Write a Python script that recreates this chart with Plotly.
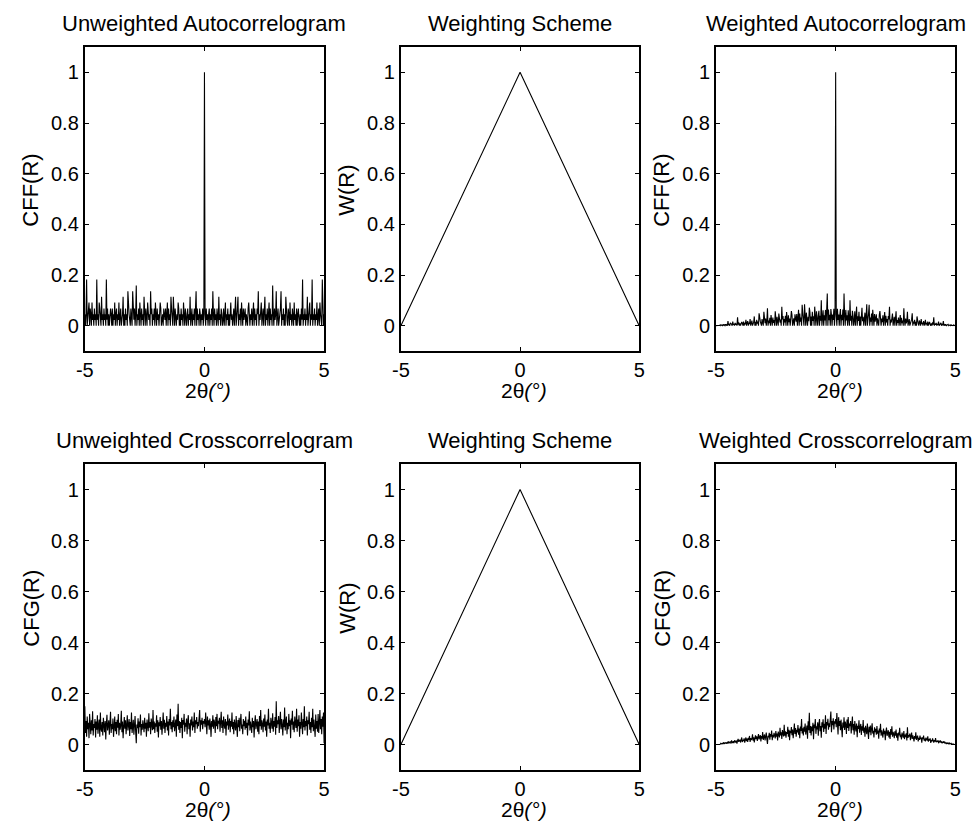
import numpy as np
import plotly.graph_objects as go

# ---------------- data ----------------
LAG_MIN, LAG_MAX, N_LAGS = -5.0, 5.0, 401
lags = np.linspace(LAG_MIN, LAG_MAX, N_LAGS)

# triangular weighting scheme (vertices)
weight_x = [-5.0, 0.0, 5.0]
weight_y = [0.0, 1.0, 0.0]

# unweighted autocorrelogram, lags 0 .. +5 (symmetric in lag)
auto_half = [1.0,
    .045, .0, .068, .023, .045, .0, .045, .068, .0, .045,
    .023, .068, .0, .136, .045, .0, .068, .023, .045, .0,
    .068, .045, .0, .114, .023, .045, .0, .068, .045, .0,
    .023, .068, .0, .045, .091, .0, .045, .023, .068, .0,
    .045, .0, .068, .091, .023, .045, .0, .045, .068, .0,
    .045, .114, .0, .023, .068, .114, .0, .045, .023, .068,
    .0, .091, .045, .0, .068, .023, .045, .068, .0, .045,
    .023, .0, .068, .091, .045, .0, .045, .023, .068, .0,
    .045, .091, .0, .068, .023, .045, .0, .068, .045, .136,
    .0, .045, .023, .068, .091, .0, .045, .068, .0, .045,
    .114, .0, .045, .023, .068, .0, .045, .091, .0, .068,
    .023, .045, .0, .159, .045, .0, .068, .023, .045, .136,
    .0, .045, .068, .0, .023, .045, .068, .136, .0, .045,
    .023, .068, .0, .045, .0, .114, .045, .023, .0, .068,
    .045, .0, .091, .023, .045, .0, .068, .045, .0, .091,
    .023, .045, .0, .068, .0, .045, .068, .023, .0, .045,
    .0, .068, .023, .182, .0, .045, .023, .068, .0, .045,
    .023, .114, .0, .045, .068, .091, .0, .045, .023, .182,
    .0, .045, .023, .068, .0, .045, .023, .091, .0, .045,
    .068, .0, .091, .045, .023, .0, .182, .045, .0, .045]
auto_unweighted = auto_half[::-1] + auto_half[1:]

# unweighted crosscorrelogram, lags -5 .. +5
cross_unweighted = [
    .150, .045, .092, .030, .110, .060, .085, .025, .120, .070,
    .040, .095, .055, .130, .035, .080, .065, .100, .028, .090,
    .058, .115, .042, .075, .098, .030, .125, .062, .050, .088,
    .035, .105, .070, .048, .092, .020, .083, .117, .055, .072,
    .095, .038, .068, .128, .045, .080, .060, .102, .030, .076,
    .110, .052, .088, .040, .097, .066, .120, .035, .085, .058,
    .075, .132, .048, .090, .025, .070, .108, .062, .095, .040,
    .082, .115, .055, .072, .100, .033, .088, .060, .125, .045,
    .070, .097, .038, .085, .112, .050, .005, .078, .064, .103,
    .042, .090, .068, .118, .035, .080, .058, .095, .072, .048,
    .105, .062, .085, .030, .098, .074, .052, .122, .066, .088,
    .040, .102, .078, .056, .135, .060, .090, .045, .083, .070,
    .115, .050, .095, .028, .087, .072, .108, .058, .092, .038,
    .080, .125, .062, .097, .045, .085, .070, .112, .055, .090,
    .035, .100, .075, .140, .060, .088, .048, .095, .068, .110,
    .052, .082, .098, .030, .118, .072, .160, .058, .092, .045,
    .088, .065, .105, .025, .096, .078, .120, .050, .085, .070,
    .102, .040, .092, .115, .060, .083, .030, .098, .075, .110,
    .055, .090, .068, .125, .045, .095, .080, .108, .062, .088,
    .072, .118, .135, .050, .095, .078, .105, .060, .092, .082,
    .100, .068, .125, .085, .040, .110, .075, .095, .058, .102,
    .080, .030, .092, .070, .115, .062, .098, .085, .045, .108,
    .072, .120, .060, .093, .082, .105, .050, .088, .128, .065,
    .095, .045, .110, .078, .062, .100, .035, .090, .075, .118,
    .058, .085, .102, .048, .092, .070, .125, .060, .088, .040,
    .098, .075, .055, .112, .083, .030, .096, .068, .105, .052,
    .088, .120, .062, .078, .040, .100, .072, .093, .058, .110,
    .065, .085, .035, .098, .075, .130, .055, .090, .070, .045,
    .105, .068, .092, .028, .085, .115, .060, .078, .100, .050,
    .090, .040, .112, .072, .135, .058, .095, .080, .048, .102,
    .070, .118, .055, .090, .030, .098, .075, .140, .062, .085,
    .045, .105, .080, .062, .122, .050, .092, .070, .108, .038,
    .170, .065, .095, .080, .112, .045, .088, .128, .060, .100,
    .075, .035, .098, .068, .145, .055, .090, .110, .040, .085,
    .060, .120, .072, .095, .025, .102, .078, .132, .058, .090,
    .048, .110, .082, .065, .140, .050, .098, .072, .115, .030,
    .088, .062, .125, .078, .040, .100, .068, .150, .055, .092,
    .072, .110, .035, .095, .080, .128, .058, .088, .045, .105,
    .068, .140, .052, .098, .075, .030, .118, .062, .092, .050,
    .120, .045, .085, .135, .060, .100, .040, .110, .070, .125,
    .005]

# weighted series = unweighted * weighting scheme
w_at_lags = np.interp(lags, weight_x, weight_y)
auto_weighted = np.array(auto_unweighted) * w_at_lags
cross_weighted = np.array(cross_unweighted) * w_at_lags

titles = ["Unweighted Autocorrelogram", "Weighting Scheme", "Weighted Autocorrelogram",
          "Unweighted Crosscorrelogram", "Weighting Scheme", "Weighted Crosscorrelogram"]
ylabels = ["CFF(R)", "W(R)", "CFF(R)", "CFG(R)", "W(R)", "CFG(R)"]
xlabel = "2\u03b8<i>(\u00b0)</i>"
x_tickvals = [-5, 0, 5]
x_ticktext = ["-5", "0", "5"]
y_tickvals = [0, 0.2, 0.4, 0.6, 0.8, 1]
y_ticktext = ["0", "0.2", "0.4", "0.6", "0.8", "1"]

# ---------------- layout geometry (pixels) ----------------
W, H = 980, 823
col_px = [(77, 320), (398, 640), (718, 961)]
row_px = [(47, 351), (464, 770)]

FONT = "Liberation Sans, Arial, Helvetica, sans-serif"
FS_TICK = 20
FS_LABEL = 22
FS_XLABEL = 21

fig = go.Figure()

series = [
    (lags, auto_unweighted),
    (weight_x, weight_y),
    (lags, auto_weighted),
    (lags, cross_unweighted),
    (weight_x, weight_y),
    (lags, cross_weighted),
]

annotations = []
for k in range(6):
    r, c = divmod(k, 3)
    x0, x1 = col_px[c]
    y0, y1 = row_px[r]
    xa = "xaxis" if k == 0 else f"xaxis{k+1}"
    ya = "yaxis" if k == 0 else f"yaxis{k+1}"
    xref = "x" if k == 0 else f"x{k+1}"
    yref = "y" if k == 0 else f"y{k+1}"
    xs, ys = series[k]
    fig.add_trace(go.Scatter(x=xs, y=ys, mode="lines", xaxis=xref, yaxis=yref,
                             line=dict(color="black", width=1.1), showlegend=False,
                             hoverinfo="skip"))
    common = dict(showline=True, linecolor="black", linewidth=2, mirror="ticks",
                  ticks="inside", ticklen=4, tickwidth=1, tickcolor="black",
                  showgrid=False, zeroline=False, fixedrange=True,
                  tickfont=dict(family=FONT, size=FS_TICK, color="black"))
    fig.layout[xa] = dict(domain=[x0 / W, x1 / W], anchor=yref, range=[-5, 5],
                          tickvals=x_tickvals, ticktext=x_ticktext, **common)
    fig.layout[ya] = dict(domain=[1 - y1 / H, 1 - y0 / H], anchor=xref, range=[-0.1, 1.1],
                          tickvals=y_tickvals, ticktext=y_ticktext, **common)
    xc = (x0 + x1) / 2
    # subplot title
    annotations.append(dict(text=titles[k], x=xc / W, y=1 - (y0 - 24) / H,
                            xref="paper", yref="paper", showarrow=False,
                            xanchor="center", yanchor="middle",
                            font=dict(family=FONT, size=FS_LABEL, color="black")))
    # y label
    annotations.append(dict(text=ylabels[k], x=(x0 - 55) / W,
                            y=1 - ((y0 + y1) / 2 - 9) / H,
                            xref="paper", yref="paper", showarrow=False, textangle=-90,
                            xanchor="center", yanchor="middle",
                            font=dict(family=FONT, size=FS_LABEL, color="black")))
    # x label
    annotations.append(dict(text=xlabel, x=(xc + 4) / W, y=1 - (y1 + 39) / H,
                            xref="paper", yref="paper", showarrow=False,
                            xanchor="center", yanchor="middle", borderpad=0,
                            font=dict(family=FONT, size=FS_XLABEL, color="black")))

fig.update_layout(width=W, height=H, margin=dict(l=0, r=0, t=0, b=0),
                  paper_bgcolor="white", plot_bgcolor="white",
                  annotations=annotations)

fig.write_html("out.html", config={"displayModeBar": False})
